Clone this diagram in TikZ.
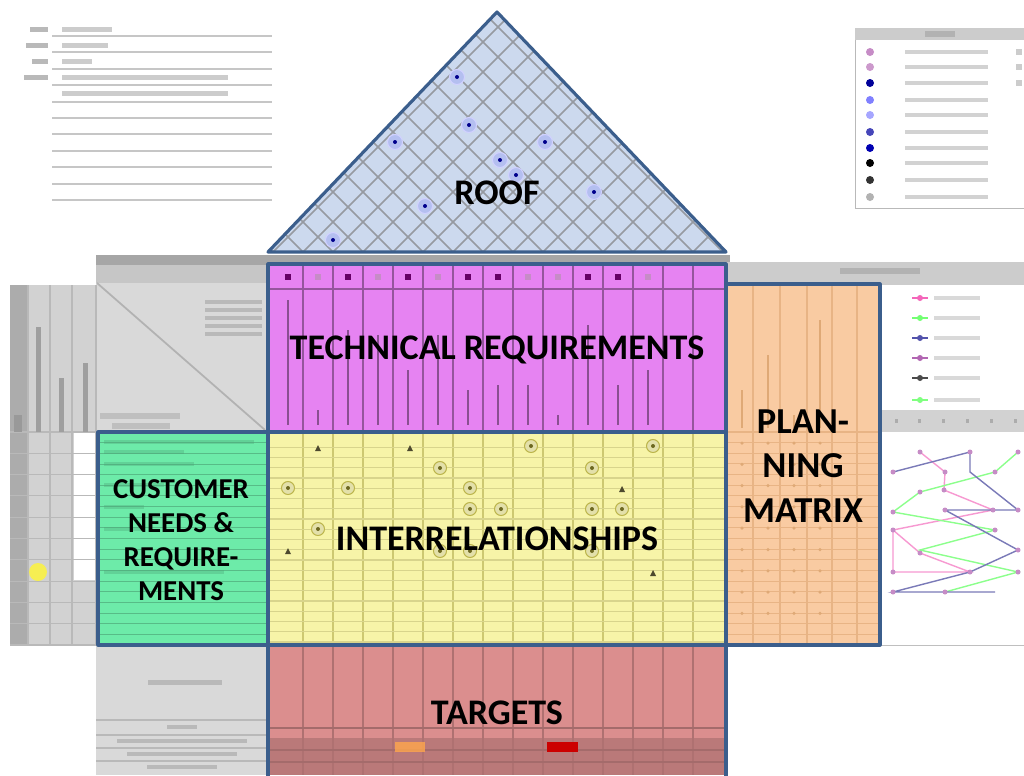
\documentclass[tikz,border=0pt]{standalone}
\usepackage{fontspec}
\setmainfont{Carlito}
\usetikzlibrary{positioning,calc}
\definecolor{frameblue}{HTML}{3B5E8C}
\definecolor{roofblue}{HTML}{CCD9EE}
\definecolor{techpink}{HTML}{E683F2}
\definecolor{relyellow}{HTML}{F7F4A8}
\definecolor{custgreen}{HTML}{6DEBA9}
\definecolor{planorange}{HTML}{F9CBA2}
\definecolor{targetred}{HTML}{DB8E8E}
\tikzstyle{frame} = [draw=frameblue, line width=1.8pt, line join=round]
\tikzstyle{biglabel} = [font=\bfseries\fontsize{20.5}{22}\selectfont, align=center, inner sep=0pt]
\tikzstyle{custlabel} = [font=\bfseries\fontsize{16.4}{19.3}\selectfont, align=center, inner sep=0pt]
\tikzstyle{planlabel} = [font=\bfseries\fontsize{20.8}{25.5}\selectfont, align=center, inner sep=0pt]
\tikzstyle{formline} = [draw=gray!45, line width=1.2pt]
\tikzstyle{blurtext} = [fill=gray!55]
\tikzstyle{roofgrid} = [draw=gray!70!roofblue, line width=0.9pt]
\tikzstyle{ring} = [draw=blue!18, fill=blue!12!roofblue, line width=0.6pt]

\begin{document}
\begin{tikzpicture}[x=0.02cm, y=-0.02cm]
	\useasboundingbox (0,0) rectangle (1024,775);
	\fill[white] (0,0) rectangle (1024,775);

	% form at the top left
	\foreach \i in {0,...,10}
		\draw[formline] (52,{36+16.4*\i}) -- (272,{36+16.4*\i});
	\foreach \y/\w in {27/18, 43/22, 59/16, 75/24}
		\fill[blurtext] ({48-\w},\y) rectangle (48,{\y+5});
	\foreach \y/\w in {27/50, 43/46, 59/30, 75/166, 91/166}
		\fill[gray!40] (62,\y) rectangle ({62+\w},{\y+5});

	% legend at the top right
	\draw[gray!55, fill=white] (855,28) rectangle (1030,208);
	\fill[gray!40] (855,28) rectangle (1030,40);
	\fill[gray!60] (925,31) rectangle (955,37);
	\foreach \y/\c in {52/violet!45, 67/violet!40, 83/blue!60!black, 100/blue!50, 115/blue!35,
		132/blue!45!gray, 148/blue!70!black, 163/black, 180/black!80, 197/gray!60}
	{
		\fill[\c] (870,\y) circle (0.08cm);
		\fill[gray!35] (905,{\y-2}) rectangle (988,{\y+2});
	}
	\foreach \y in {52,67,83}
		\fill[gray!40] (1016,{\y-3}) rectangle (1022,{\y+3});

	% gray spreadsheet parts round the house
	\fill[gray!70] (96,255) rectangle (730,265);
	\fill[gray!30] (96,265) rectangle (268,432);
	\fill[gray!45] (96,265) rectangle (268,283);
	\draw[gray!60, line width=1pt] (97,283) -- (265,430);
	\foreach \y in {300,308,316,324,332}
		\fill[gray!55] (205,\y) rectangle (262,{\y+4});
	\fill[gray!50] (100,413) rectangle (180,419);
	\fill[gray!50] (112,423) rectangle (170,429);

	\fill[gray!35] (10,285) rectangle (96,645);
	\fill[gray!65] (10,285) rectangle (28,645);
	\fill[white] (74,432) rectangle (96,580);
	\foreach \x in {28,50,72,96}
		\draw[gray!55, line width=0.8pt] (\x,285) -- (\x,645);
	\foreach \i in {0,...,10}
		\draw[gray!55, line width=0.6pt] (10,{432+21.3*\i}) -- (96,{432+21.3*\i});
	\fill[gray!75] (36,327) rectangle (41,432);
	\fill[gray!75] (59,378) rectangle (64,432);
	\fill[gray!75] (83,363) rectangle (88,432);
	\fill[gray!80] (14,415) rectangle (22,432);
	\fill[yellow!80, opacity=0.8] (38,572) circle (0.18cm);

	\fill[gray!30] (96,645) rectangle (268,775);
	\fill[gray!55] (148,680) rectangle (222,685);
	\foreach \y in {720,735,748,761}
		\draw[gray!55, line width=0.8pt] (96,\y) -- (268,\y);
	\foreach \y/\w in {727/30, 741/130, 754/110, 767/70}
		\fill[gray!55] ({182-\w/2},{\y-2}) rectangle ({182+\w/2},{\y+2});

	% competitive analysis at the right
	\fill[gray!40] (726,262) rectangle (1024,285);
	\fill[gray!60] (840,268) rectangle (920,274);
	\fill[gray!35] (880,410) rectangle (1024,432);
	\foreach \x in {895,918,942,966,990,1014}
		\fill[gray!65] (\x,419) rectangle ({\x+3},423);
	\draw[gray!50] (880,285) -- (880,645) -- (1024,645);
	\foreach \y/\c in {298/magenta!60, 318/green!55, 338/blue!35!gray, 358/violet!60, 378/black!70, 400/green!50}
	{
		\draw[\c, line width=0.8pt] (912,\y) -- (928,\y);
		\fill[\c] (920,\y) circle (0.06cm);
		\fill[gray!30] (934,{\y-2}) rectangle (980,{\y+2});
	}
	\draw[magenta!40, line width=0.8pt] (920,452) -- (945,472) -- (944,490) -- (993,510) -- (893,530)
		-- (893,572) -- (970,572) -- (920,553) -- (893,530);
	\draw[green!45, line width=0.8pt] (1018,452) -- (995,472) -- (920,492) -- (893,512)
		-- (995,530) -- (920,550) -- (1018,572) -- (945,592);
	\draw[blue!30!gray!80, line width=0.8pt] (893,472) -- (970,452) -- (970,472) -- (1018,510)
		-- (945,510) -- (1018,550) -- (970,572) -- (893,592) -- (995,592);
	\foreach \p in {(920,452),(945,472),(944,490),(993,510),(893,530),(893,572),(970,572),(920,553),
		(1018,452),(995,472),(920,492),(893,512),(995,530),(1018,572),(945,592),
		(893,472),(970,452),(1018,510),(945,510),(1018,550),(893,592)}
		\fill[violet!45] \p circle (0.05cm);

	% roof
	\begin{scope}
		\clip (268,252) -- (497,12) -- (726,252) -- cycle;
		\fill[roofblue] (268,0) rectangle (726,252);
		\foreach \c in {-10,...,25}
		{
			\draw[roofgrid] ({273+30*\c},252) -- ++(300,-300);
			\draw[roofgrid] ({273+30*\c},252) -- ++(-300,-300);
		}
	\end{scope}
	\foreach \p in {(457,77),(469,125),(395,142),(545,142),(500,160),(516,175),(594,192),(425,206),(333,240)}
	{
		\draw[ring] \p circle (0.15cm);
		\fill[blue!55!black] \p circle (0.04cm);
	}
	\draw[frame] (268,252) -- (497,12) -- (726,252) -- cycle;

	% technical requirements
	\fill[techpink] (268,264) rectangle (726,432);
	\foreach \k in {1,...,14}
		\draw[techpink!65!black, line width=0.9pt] ({273+30*\k},264) -- ({273+30*\k},432);
	\draw[techpink!65!black, line width=0.9pt] (268,289) -- (726,289);
	\foreach \k/\top in {0/300, 1/410, 2/330, 3/335, 4/370, 5/335, 6/390, 7/385, 8/385,
		9/415, 10/325, 11/385, 12/370}
		\draw[techpink!60!black, line width=1.2pt] ({288+30*\k},\top) -- ({288+30*\k},425);
	\foreach \k/\c in {0/violet!80!black, 1/violet!45, 2/violet!80!black, 3/violet!45, 4/violet!80!black,
		5/violet!45, 6/violet!80!black, 7/violet!80!black, 8/violet!45, 9/violet!45,
		10/violet!80!black, 11/violet!80!black, 12/violet!45}
		\fill[\c] ({288+30*\k-3},274) rectangle ({288+30*\k+3},280);

	% interrelationships
	\fill[relyellow] (268,432) rectangle (726,645);
	\foreach \k in {1,...,14}
		\draw[olive!45, line width=0.9pt] ({273+30*\k},432) -- ({273+30*\k},645);
	\foreach \i in {1,...,20}
		\draw[olive!35, line width=0.7pt] (268,{437+10.25*\i}) -- (726,{437+10.25*\i});
	\foreach \p in {(531,446),(653,446),(440,468),(592,468),(288,488),(348,488),(470,488),
		(470,509),(501,509),(592,509),(622,509),(318,529),(440,551),(470,551),(592,551)}
	{
		\draw[olive!60, fill=olive!25, line width=0.6pt] \p circle (0.13cm);
		\fill[olive!70!black] \p circle (0.04cm);
	}
	\foreach \p in {(318,448),(410,448),(622,489),(288,551),(653,573)}
		\fill[olive!40!black] \p +(-3,3) -- +(3,3) -- +(0,-3) -- cycle;

	% customer needs
	\fill[custgreen] (98,432) rectangle (268,645);
	\foreach \i in {1,...,20}
		\draw[custgreen!80!black, line width=0.5pt] (98,{432+10.65*\i}) -- (268,{432+10.65*\i});
	\foreach \y/\w in {440/150, 450/80, 462/90, 483/60, 505/40, 527/40, 570/120}
		\fill[custgreen!70!black, opacity=0.35] (104,\y) rectangle ({104+\w},{\y+4});

	% planning matrix
	\fill[planorange] (726,284) rectangle (880,645);
	\foreach \x in {753,780,807,832,857}
		\draw[planorange!70!brown, line width=0.9pt] (\x,284) -- (\x,645);
	\foreach \i in {0,...,20}
		\draw[planorange!70!brown, line width=0.6pt] (726,{432+10.65*\i}) -- (880,{432+10.65*\i});
	\foreach \x/\top in {742/390, 768/355, 794/415, 820/320}
		\draw[planorange!55!brown, line width=1.2pt] (\x,\top) -- (\x,428);
	\foreach \x in {742,768,794,820}
		\foreach \j in {0,...,8}
			\fill[planorange!55!brown] (\x,{443+21.3*\j}) circle (0.035cm);

	% targets
	\fill[targetred] (268,645) rectangle (726,775);
	\fill[targetred!85!black] (268,738) rectangle (726,775);
	\foreach \k in {1,...,14}
		\draw[targetred!80!black, line width=0.9pt] ({273+30*\k},645) -- ({273+30*\k},775);
	\foreach \y in {728,750,762}
		\draw[targetred!75!black, line width=0.7pt] (268,\y) -- (726,\y);
	\fill[orange!70, opacity=0.8] (395,742) rectangle (425,752);
	\fill[red!80!black] (547,742) rectangle (578,752);

	% outlines of the parts
	\draw[frame] (268,264) rectangle (726,432);
	\draw[frame] (268,432) rectangle (726,645);
	\draw[frame] (98,432) rectangle (268,645);
	\draw[frame] (726,284) rectangle (880,645);
	\draw[frame] (268,780) -- (268,645) -- (726,645) -- (726,780);

	\node[biglabel] (roof) at (497,193) {ROOF};
	\node[biglabel] (techreq) at (497,350) {TECHNICAL REQUIREMENTS};
	\node[biglabel] (interrel) at (497,539) {INTERRELATIONSHIPS};
	\node[custlabel] (custneeds) at (181,540) {CUSTOMER\\NEEDS \&\\REQUIRE-\\MENTS};
	\node[planlabel] (planning) at (803,466) {PLAN-\\NING\\MATRIX};
	\node[biglabel] (targets) at (497,713) {TARGETS};

\end{tikzpicture}
\end{document}
